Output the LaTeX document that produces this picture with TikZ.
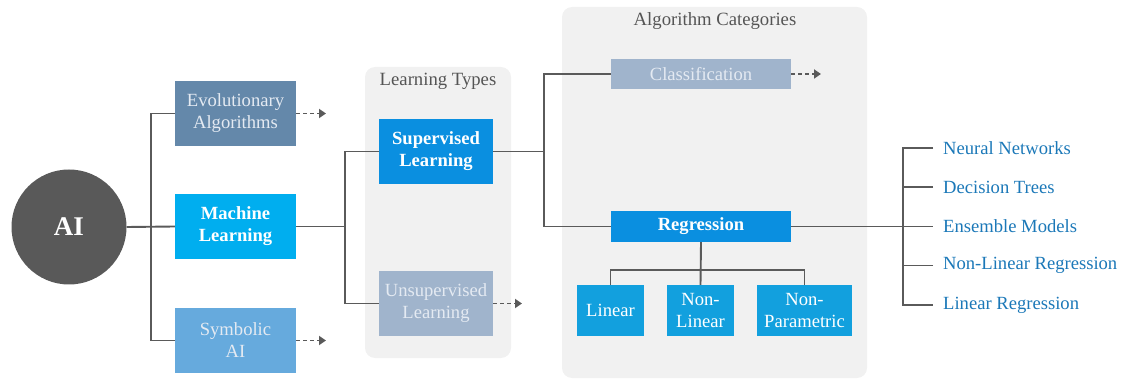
\documentclass[tikz,border=0pt]{standalone}
\usepackage{fontspec}
\setmainfont{Liberation Serif}
\newfontfamily\diagfont{Liberation Serif}
\usetikzlibrary{arrows.meta}

\definecolor{lineg}{HTML}{5A5A5A}
\definecolor{panelg}{HTML}{F1F1F1}
\definecolor{titleg}{HTML}{555555}
\definecolor{aigrey}{HTML}{595959}
\definecolor{evoblue}{HTML}{6488AA}
\definecolor{mlblue}{HTML}{00AEEF}
\definecolor{symblue}{HTML}{66AADD}
\definecolor{supblue}{HTML}{0A8FE0}
\definecolor{paleblue}{HTML}{A0B4CC}
\definecolor{paletext}{HTML}{E4EAF2}
\definecolor{subblue}{HTML}{12A0DE}
\definecolor{leafblue}{HTML}{1B78B8}

\tikzset{
  conn/.style={draw=lineg, line width=1.9pt},
  dashconn/.style={draw=lineg, line width=1.9pt, dash pattern=on 4pt off 3pt,
    -{Triangle[length=7pt,width=9pt]}},
  box/.style={rectangle, inner sep=0pt, align=center, text=white,
    font=\diagfont\fontsize{18.6}{22}\selectfont},
  boldbox/.style={box, font=\diagfont\fontsize{18.6}{22}\selectfont\bfseries},
  paneltitle/.style={text=titleg, font=\diagfont\fontsize{18.7}{22}\selectfont, inner sep=0pt},
  leaf/.style={anchor=west, inner xsep=10pt, inner ysep=0pt, text=leafblue,
    font=\diagfont\fontsize{18.6}{22}\selectfont},
}

\begin{document}
\begin{tikzpicture}[x=1pt, y=-1pt]
\useasboundingbox (0,0) rectangle (1124,379);

% background panels
\fill[panelg, rounded corners=10pt] (365,67) rectangle (511,358);
\fill[panelg, rounded corners=10pt] (562,7) rectangle (867,378);
\node[paneltitle] (lttitle) at (438,81) {Learning Types};
\node[paneltitle] (actitle) at (715,21) {Algorithm Categories};

% root
\node[circle, fill=aigrey, minimum size=115pt, inner sep=0pt, text=white,
  font=\diagfont\fontsize{27}{30}\selectfont\bfseries] (ai) at (69,227) {AI};

% first level
\node[box, fill=evoblue, text=paletext, minimum width=121pt, minimum height=65pt] (evo) at (235.5,113.5) {Evolutionary\\Algorithms};
\node[boldbox, fill=mlblue, minimum width=121pt, minimum height=65pt] (ml) at (235.5,226.5) {Machine\\Learning};
\node[box, fill=symblue, text=paletext, minimum width=121pt, minimum height=65pt] (sym) at (235.5,340.5) {Symbolic\\AI};

% learning types
\node[boldbox, fill=supblue, minimum width=114pt, minimum height=65pt] (sup) at (436,151.5) {Supervised\\Learning};
\node[box, fill=paleblue, text=paletext, minimum width=114pt, minimum height=65pt] (uns) at (436,303.5) {Unsupervised\\Learning};

% algorithm categories
\node[box, fill=paleblue, text=paletext, minimum width=180pt, minimum height=30pt] (cls) at (701,74) {Classification};
\node[boldbox, fill=supblue, minimum width=180pt, minimum height=31pt] (reg) at (701,226.5) {Regression};

\node[box, fill=subblue, minimum width=67pt, minimum height=51pt] (lin) at (610.5,310.5) {Linear};
\node[box, fill=subblue, minimum width=67pt, minimum height=51pt] (nlin) at (700.5,310.5) {Non-\\Linear};
\node[box, fill=subblue, minimum width=95pt, minimum height=51pt] (npar) at (804.5,310.5) {Non-\\Parametric};

% regression models
\node[leaf] (nn) at (933,148) {Neural Networks};
\node[leaf] (dt) at (933,187) {Decision Trees};
\node[leaf] (em) at (933,226.5) {Ensemble Models};
\node[leaf] (nlr) at (933,265.5) {Non-Linear Regression};
\node[leaf] (lr) at (933,305) {Linear Regression};

% junctions and arrow ends
\coordinate (j1) at (151,226.5);
\coordinate (j2) at (345,226.5);
\coordinate (j3) at (544,151.5);
\coordinate (j4) at (903,226.5);
\coordinate (bar) at (701,270);
\coordinate (evoend) at (326,113.5);
\coordinate (symend) at (326,340.5);
\coordinate (unsend) at (522,303.5);
\coordinate (clsend) at (821,74);

% connectors
\draw[conn] (ai.east) -- (ml.west);
\draw[conn] (evo.west) -| (j1) |- (sym.west);
\draw[conn] (ml.east) -- (j2);
\draw[conn] (sup.west) -| (j2) |- (uns.west);
\draw[conn] (sup.east) -- (j3);
\draw[conn] (cls.west) -| (j3) |- (reg.west);
\draw[conn] (reg.south) -- (nlin.north);
\draw[conn] (lin.north) |- (bar) -| (npar.north);
\draw[conn] (reg.east) -- (em.west);
\draw[conn] (nn.west) -| (j4) |- (lr.west);
\draw[conn] (dt.west) -- (dt.west -| j4);
\draw[conn] (nlr.west) -- (nlr.west -| j4);

\draw[dashconn] (evo.east) -- (evoend);
\draw[dashconn] (sym.east) -- (symend);
\draw[dashconn] (uns.east) -- (unsend);
\draw[dashconn] (cls.east) -- (clsend);
\end{tikzpicture}
\end{document}
